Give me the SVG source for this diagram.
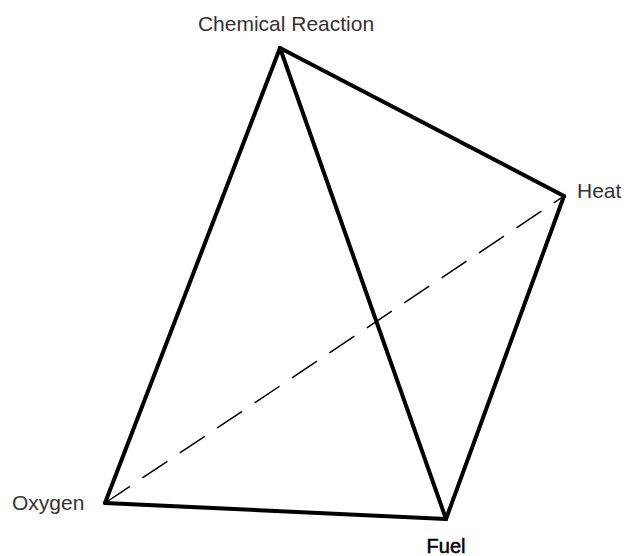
<svg xmlns="http://www.w3.org/2000/svg" width="626" height="556" viewBox="0 0 626 556">
<style>
.edge{stroke:#000;stroke-width:4;fill:none;stroke-linecap:round;stroke-linejoin:round}
.dash{stroke:#000;stroke-width:1.5;fill:none;stroke-dasharray:30 15}
.lbl{font-family:"Liberation Sans",Arial,sans-serif;font-size:21px;fill:#333}
</style>
<rect width="626" height="556" fill="#fff"/>
<g id="connectors">
<line class="dash" x1="105" y1="503" x2="564" y2="196"/>
<line class="edge" x1="280" y1="48" x2="564" y2="196"/>
<line class="edge" x1="280" y1="48" x2="105" y2="503"/>
<line class="edge" x1="280" y1="48" x2="446" y2="519"/>
<line class="edge" x1="564" y1="196" x2="446" y2="519"/>
<line class="edge" x1="105" y1="503" x2="446" y2="519"/>
</g>
<g id="chemical-reaction"><text class="lbl" x="286" y="31" text-anchor="middle">Chemical Reaction</text></g>
<g id="heat"><text class="lbl" x="577" y="198">Heat</text></g>
<g id="oxygen"><text class="lbl" x="12" y="510">Oxygen</text></g>
<g id="fuel"><text class="lbl" x="446" y="553" text-anchor="middle" style="font-size:20px;fill:#000;stroke:#000;stroke-width:0.5">Fuel</text></g>
</svg>
